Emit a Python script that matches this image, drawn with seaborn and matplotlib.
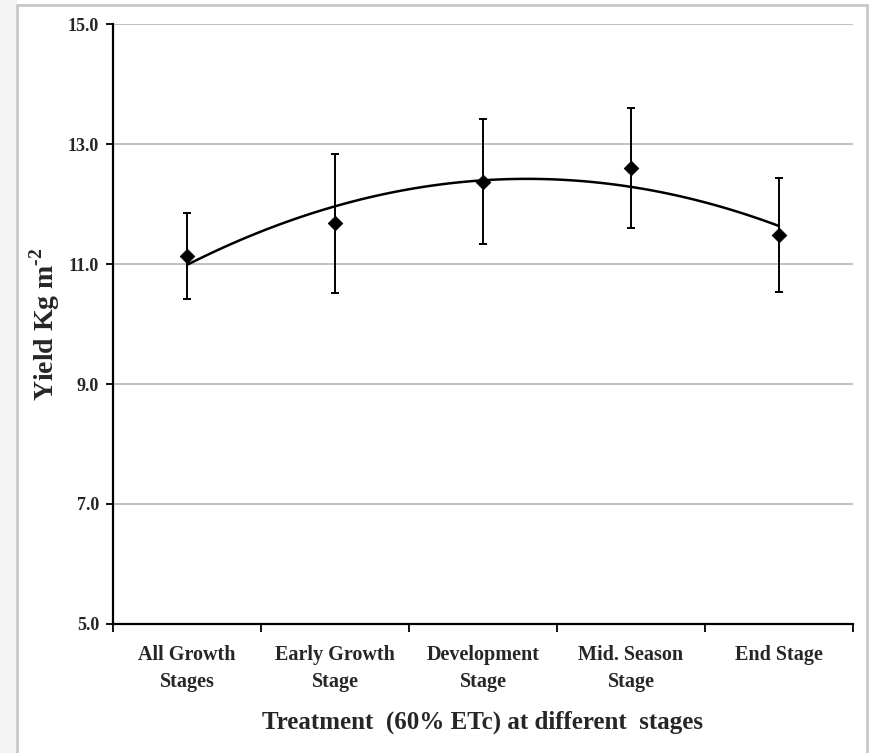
import numpy as np
import pandas as pd
import matplotlib
matplotlib.use("Agg")
import matplotlib.pyplot as plt
import seaborn as sns
from matplotlib.patches import Rectangle

categories = ["All Growth\nStages", "Early Growth\nStage", "Development\nStage",
              "Mid. Season\nStage", "End Stage"]
yield_mean = [11.13, 11.68, 12.37, 12.60, 11.48]
yield_err = [0.72, 1.16, 1.04, 1.00, 0.95]
y_ticks = [5.0, 7.0, 9.0, 11.0, 13.0, 15.0]

sns.set_theme(style="white")
plt.rcParams['font.family'] = ['Liberation Serif', 'DejaVu Serif']
plt.rcParams['mathtext.fontset'] = 'custom'
plt.rcParams['mathtext.rm'] = 'Liberation Serif:bold'
plt.rcParams['mathtext.bf'] = 'Liberation Serif:bold'

df = pd.DataFrame({"pos": np.arange(len(categories)), "yield": yield_mean, "err": yield_err})

fig = plt.figure(figsize=(8.69, 7.53), dpi=100)
# outer frame and textured strip
fig.patches.append(Rectangle((0, 0), 17/869, 1, transform=fig.transFigure,
                             facecolor="#f3f3f3", edgecolor="none", zorder=-10))
fig.patches.append(Rectangle((17/869, -0.01), (867-17)/869, 1 - 5/753 + 0.01,
                             transform=fig.transFigure, facecolor="white",
                             edgecolor="#c8c8c8", linewidth=2, zorder=-10))

ax = fig.add_axes([113/869, 1 - 624/753, (853-113)/869, (624-24)/753])
ax.set_zorder(5)
ax.set_facecolor("none")

for yv in y_ticks[1:]:
    ax.axhline(yv, color="#bdbdbd", linewidth=1.3, zorder=0)

ax.errorbar(df["pos"], df["yield"], yerr=df["err"], fmt="none", ecolor="black",
            elinewidth=1.4, capsize=3, capthick=1.4, zorder=2)
sns.regplot(data=df, x="pos", y="yield", order=2, ci=None, scatter=False, ax=ax,
            line_kws=dict(color="black", linewidth=1.8, zorder=3), truncate=True)
sns.scatterplot(data=df, x="pos", y="yield", marker="D", color="black", s=55,
                edgecolor="black", ax=ax, zorder=4)

ax.set_xlim(-0.5, len(categories) - 0.5)
ax.set_ylim(5, 15)
ax.set_yticks(y_ticks)
ax.set_yticklabels([f"{v:.1f}" for v in y_ticks], fontsize=13, fontweight="bold")
ax.set_xticks(np.arange(-0.5, len(categories), 1.0))
ax.set_xticklabels([])
ax.set_xticks(np.arange(len(categories)), minor=True)
ax.set_xticklabels(categories, minor=True, fontsize=14.5, fontweight="bold", linespacing=1.45)
ax.tick_params(axis="x", which="major", direction="out", length=6, width=1.3, color="black", bottom=True)
ax.tick_params(axis="x", which="minor", length=0, pad=15)
ax.tick_params(axis="y", direction="out", length=5, width=1.3, color="black", left=True, pad=5)
for lab in ax.get_xticklabels(minor=True):
    lab.set_verticalalignment("top")

for s in ["top", "right"]:
    ax.spines[s].set_visible(False)
for s in ["left", "bottom"]:
    ax.spines[s].set_color("black")
    ax.spines[s].set_linewidth(1.6)

ax.set_xlabel("Treatment  (60% ETc) at different  stages", fontsize=18, fontweight="bold", labelpad=14)
ax.set_ylabel("Yield Kg m$^{\\mathbf{\u2010}\\mathbf{2}}$", fontsize=20, fontweight="bold", labelpad=4)

fig.savefig("out.png", dpi=100)
